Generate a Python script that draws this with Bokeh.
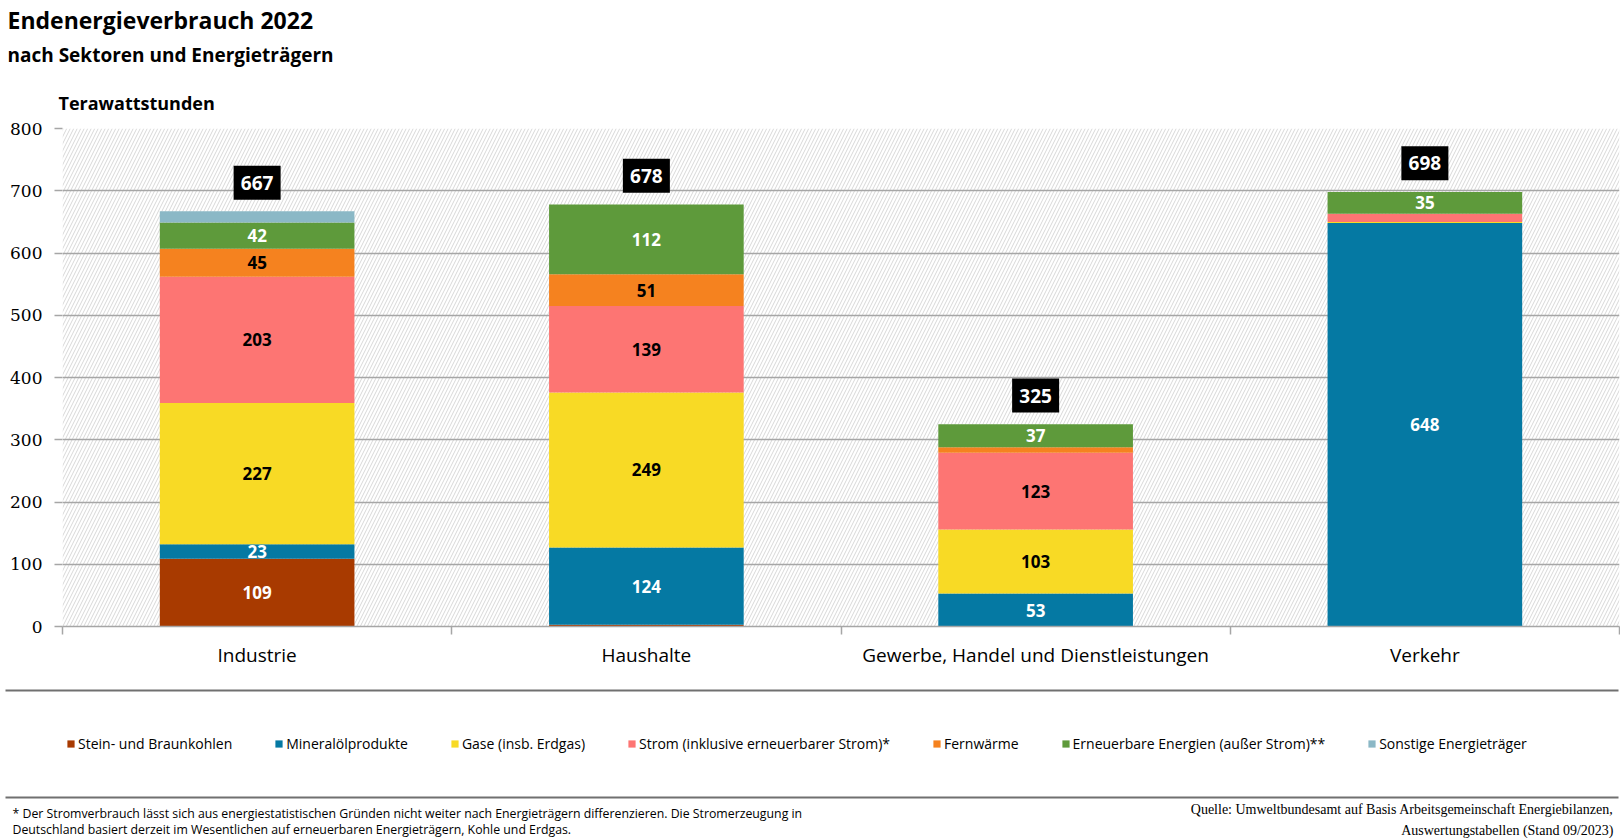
from bokeh.plotting import figure
from bokeh.models import (ColumnDataSource, Range1d, FixedTicker, Legend, LegendItem,
                          BoxAnnotation)
from bokeh.core.properties import value
from bokeh.embed import file_html
from bokeh.resources import INLINE

# Endenergieverbrauch 2022 in TWh
sectors = ["Industrie", "Haushalte", "Gewerbe, Handel und Dienstleistungen", "Verkehr"]
carriers = ["Stein- und Braunkohlen", "Mineralölprodukte", "Gase (insb. Erdgas)",
            "Strom (inklusive erneuerbarer Strom)*", "Fernwärme",
            "Erneuerbare Energien (außer Strom)**", "Sonstige Energieträger"]
kohle = [109, 3, 0, 0]
mineraloel = [23, 124, 53, 648]
gase = [227, 249, 103, 2]
strom = [203, 139, 123, 13]
fernwaerme = [45, 51, 9, 0]
erneuerbare = [42, 112, 37, 35]
sonstige = [18, 0, 0, 0]
totals = [667, 678, 325, 698]

colors = ["#a83a00", "#0579a3", "#f8da25", "#fd7573", "#f5821f", "#5e9a3b", "#8bb8c6"]
label_colors = ["white", "white", "black", "black", "black", "white", "white"]

keys = ["kohle", "mineraloel", "gase", "strom", "fernwaerme", "erneuerbare", "sonstige"]
series = [kohle, mineraloel, gase, strom, fernwaerme, erneuerbare, sonstige]

W = 1620
TOP_H, MAIN_H, BOTTOM_H = 116, 560, 162
FONT = "Open Sans"


def blank(height):
    f = figure(width=W, height=height, x_range=Range1d(0, W), y_range=Range1d(height, 0),
               x_axis_type=None, y_axis_type=None, output_backend="svg", toolbar_location=None,
               min_border=0)
    f.outline_line_color = None
    f.grid.visible = False
    return f


# ---- heading ----
top = blank(TOP_H)
top.text(x=[7], y=[19], text=["Endenergieverbrauch 2022"], text_font=value(FONT),
         text_font_style="bold", text_font_size="23px", text_color="black",
         text_baseline="alphabetic")
top.text(x=[7], y=[54], text=["nach Sektoren und Energieträgern"], text_font=value(FONT),
         text_font_style="bold", text_font_size="19px", text_color="black",
         text_baseline="alphabetic")
top.text(x=[58], y=[102], text=["Terawattstunden"], text_font=value(FONT),
         text_font_style="bold", text_font_size="18px", text_color="black",
         text_baseline="alphabetic")

# ---- chart ----
xs = list(range(len(sectors)))
data = dict(x=xs)
for k, s in zip(keys, series):
    data[k] = s
source = ColumnDataSource(data)

p = figure(width=W, height=MAIN_H, x_range=Range1d(-0.5, len(sectors) - 0.5),
           y_range=Range1d(0, 800), output_backend="svg", toolbar_location=None,
           min_border_left=62, min_border_right=1, min_border_top=12, min_border_bottom=50)
p.outline_line_color = None

# hatched plot background
p.add_layout(BoxAnnotation(level="image", fill_color="white", fill_alpha=1, line_color=None,
                           hatch_pattern="/", hatch_color="#d8d8d8", hatch_scale=7,
                           hatch_weight=1))

p.vbar_stack(keys, x="x", width=0.5, source=source, fill_color=colors, line_color=None)

# segment labels
lx, ly, lt, lc = [], [], [], []
for i in range(len(sectors)):
    base = 0
    for s, tc in zip(series, label_colors):
        v = s[i]
        if v >= 20:
            lx.append(xs[i])
            ly.append(base + v / 2)
            lt.append(str(v))
            lc.append(tc)
        base += v
p.text(x=lx, y=ly, text=lt, text_color=lc, text_align="center", text_baseline="middle",
       text_font=value(FONT), text_font_style="bold", text_font_size="17px")

# total boxes
ty = [t + 46 for t in totals]
p.rect(x=xs, y=ty, width=47, height=34, width_units="screen", height_units="screen",
       fill_color="black", line_color=None)
p.text(x=xs, y=ty, text=[str(t) for t in totals], text_color="white", text_align="center",
       text_baseline="middle", text_font=value(FONT), text_font_style="bold",
       text_font_size="19px")

p.xgrid.visible = False
p.ygrid.grid_line_color = "#a6a6a6"
p.ygrid.grid_line_width = 1.5

p.xaxis.ticker = FixedTicker(ticks=xs, minor_ticks=[i - 0.5 for i in range(len(sectors) + 1)])
p.xaxis.major_label_overrides = {i: s for i, s in zip(xs, sectors)}
p.xaxis.major_tick_line_color = None
p.xaxis.minor_tick_line_color = "#a6a6a6"
p.xaxis.minor_tick_line_width = 1.5
p.xaxis.minor_tick_in = 0
p.xaxis.minor_tick_out = 8
p.xaxis.axis_line_color = "#a6a6a6"
p.xaxis.axis_line_width = 1.5
p.xaxis.major_label_standoff = 7
p.xaxis.major_label_text_font = FONT
p.xaxis.major_label_text_font_size = "19px"
p.xaxis.major_label_text_color = "black"

p.yaxis.ticker = FixedTicker(ticks=list(range(0, 801, 100)))
p.yaxis.axis_line_color = None
p.yaxis.major_tick_line_color = "#a6a6a6"
p.yaxis.major_tick_line_width = 1.5
p.yaxis.major_tick_in = 0
p.yaxis.major_tick_out = 8
p.yaxis.minor_tick_line_color = None
p.yaxis.major_label_standoff = 12
p.yaxis.major_label_text_font = "DejaVu Serif"
p.yaxis.major_label_text_font_size = "17px"
p.yaxis.major_label_text_color = "black"

# ---- legend and notes ----
bottom = blank(BOTTOM_H)
bottom.segment(x0=[5, 5], y0=[14, 121], x1=[1618, 1618], y1=[14, 121],
               line_color="#707070", line_width=2)

# zero-height swatch bars outside the view, only used as legend glyphs
swatch = ColumnDataSource({**{k: [0] for k in keys}, "x": [-100]})
legend_rs = bottom.vbar_stack(keys, x="x", width=1, source=swatch, fill_color=colors,
                              line_color=None)
legend = Legend(items=[LegendItem(label=c, renderers=[r]) for c, r in zip(carriers, legend_rs)],
                orientation="horizontal", location=(66, BOTTOM_H - 77), padding=0, margin=0,
                spacing=42, glyph_width=9, glyph_height=9, label_standoff=3, label_height=20,
                label_text_font=FONT, label_text_font_size="14px", label_text_color="black",
                border_line_color=None, background_fill_alpha=0)
bottom.add_layout(legend)

bottom.text(x=[12, 12],
            y=[137, 153],
            text=["* Der Stromverbrauch lässt sich aus energiestatistischen Gründen nicht weiter "
                  "nach Energieträgern differenzieren. Die Stromerzeugung in",
                  "Deutschland basiert derzeit im Wesentlichen auf erneuerbaren Energieträgern, "
                  "Kohle und Erdgas."],
            text_font=value(FONT), text_font_size="12.3px", text_color="black",
            text_baseline="middle")
bottom.text(x=[1613, 1613], y=[133, 154],
            text=["Quelle: Umweltbundesamt auf Basis Arbeitsgemeinschaft Energiebilanzen,",
                  "Auswertungstabellen (Stand 09/2023)"],
            text_font=value("Liberation Serif"), text_font_size="14px", text_color="black",
            text_align="right", text_baseline="middle")

# separate roots so that the frames are not aligned with each other
open("out.html", "w").write(file_html([top, p, bottom], INLINE))
